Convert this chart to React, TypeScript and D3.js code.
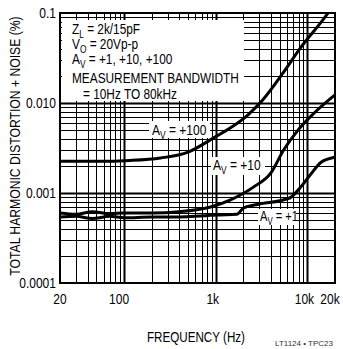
import React from "react";
import * as d3 from "d3";

const W = 343;
const H = 349;

const xTicks = [20, 100, 1000, 10000, 20000];
const xTickLabels = ["20", "100", "1k", "10k", "20k"];
const yTicks = [0.1, 0.01, 0.001, 0.0001];
const yTickLabels = ["0.1", "0.010", "0.001", "0.0001"];

const av100Freq = [20, 50, 117, 250, 500, 950, 1450, 2250, 3250, 5500, 8100, 16800, 20000];
const av100Val = [0.00225, 0.00225, 0.0023, 0.00245, 0.00285, 0.0041, 0.0053, 0.0074, 0.0108, 0.022, 0.039, 0.1, 0.13];

const av10Freq = [20, 30, 45, 70, 100, 200, 400, 880, 1450, 2600, 4000, 5500, 7900, 11800, 20000];
const av10Val = [0.0006, 0.00058, 0.00062, 0.00059, 0.0006, 0.0006, 0.00062, 0.0007, 0.00084, 0.00117, 0.00167, 0.003, 0.005, 0.0077, 0.0123];

const av1Freq = [20, 30, 45, 70, 100, 200, 340, 780, 1000, 1700, 2000, 2750, 6400, 8300, 10700, 14100, 20000];
const av1Val = [0.00054, 0.00055, 0.00052, 0.00055, 0.00053, 0.00054, 0.00054, 0.00056, 0.00057, 0.00058, 0.00068, 0.00074, 0.00088, 0.00114, 0.00158, 0.0022, 0.0025];

const condLines = ["Z|L| = 2k/15pF", "V|O| = 20Vp-p", "A|V| = +1, +10, +100", "MEASUREMENT BANDWIDTH", "  = 10Hz TO 80kHz"];

const FONT = "'Liberation Sans', Arial, Helvetica, sans-serif";

const left = 60, right = 335, top = 13, bottom = 283;
const x = d3.scaleLog().domain([20, 20000]).range([left, right]);
const y = d3.scaleLog().domain([0.0001, 0.1]).range([bottom, top]);

function T({ x, y, size, sx = 0.8, anchor = "start", children, fill = "#000" }: any) {
  return (
    <text
      transform={`translate(${x},${y}) scale(${sx},1)`}
      fontSize={size}
      textAnchor={anchor}
      fontFamily={FONT}
      fill={fill}
    >
      {children}
    </text>
  );
}

function Sub({ main, sub, rest, size }: any) {
  return (
    <>
      {main}
      <tspan fontSize={size * 0.7} dy={size * 0.25}>{sub}</tspan>
      <tspan dy={-size * 0.25}>{rest}</tspan>
    </>
  );
}

function renderLine(s: string, size: number) {
  const parts = s.split("|");
  if (parts.length === 3) return <Sub main={parts[0]} sub={parts[1]} rest={parts[2]} size={size} />;
  return s.replace(/^ +/, "");
}

export default function App() {
  const line = d3
    .line<[number, number]>()
    .x((d) => x(d[0]))
    .y((d) => y(d[1]))
    .curve(d3.curveMonotoneX);

  const minorX: number[] = [];
  for (let dec = 10; dec <= 10000; dec *= 10) {
    for (let m = 1; m <= 9; m++) {
      const f = dec * m;
      if (f > 20 && f < 20000) minorX.push(f);
    }
  }
  const minorY: number[] = [];
  for (let dec = 0.0001; dec < 0.1; dec *= 10) {
    for (let m = 1; m <= 9; m++) {
      const v = dec * m;
      if (v > 0.0001 * 1.01 && v < 0.1 * 0.99) minorY.push(v);
    }
  }
  const isMajor = (v: number) => Math.abs(Math.log10(v) - Math.round(Math.log10(v))) < 1e-6;
  const px = (v: number) => Math.round(v) + 0.5;

  const series = [
    { f: av100Freq, v: av100Val },
    { f: av10Freq, v: av10Val },
    { f: av1Freq, v: av1Val },
  ];

  const tickDx = [0, -5, -3, -3, -5];
  const lineBase = [34, 49, 64, 83, 99];

  return (
    <svg width={W} height={H} style={{ position: "absolute", left: 0, top: 0, background: "#fff" }}>
      <defs>
        <clipPath id="plot">
          <rect x={left} y={top} width={right - left} height={bottom - top} />
        </clipPath>
      </defs>
      <rect x={0} y={0} width={W} height={H} fill="#fff" />
      {/* grid */}
      <g stroke="#000">
        {minorX.map((f, i) => (
          <line key={"gx" + i} x1={px(x(f))} x2={px(x(f))} y1={top} y2={bottom} strokeWidth={isMajor(f) ? 2 : 1} />
        ))}
        {minorY.map((v, i) => (
          <line key={"gy" + i} x1={left} x2={right} y1={px(y(v))} y2={px(y(v))} strokeWidth={isMajor(v) ? 2 : 1} />
        ))}
      </g>
      {/* condition text box */}
      <rect x={62} y={20} width={182} height={81} fill="#fff" />
      {/* curves */}
      <g clipPath="url(#plot)" fill="none" stroke="#000" strokeWidth={3} strokeLinejoin="round">
        {series.map((s, i) => (
          <path key={i} d={line(s.f.map((f, j) => [f, s.v[j]] as [number, number])) || ""} />
        ))}
      </g>
      {/* curve labels */}
      <rect x={149} y={121} width={61} height={17} fill="#fff" />
      <T x={152} y={135} size={15} sx={0.8}>
        <Sub main="A" sub="V" rest=" = +100" size={15} />
      </T>
      <rect x={211} y={157} width={54} height={18} fill="#fff" />
      <T x={213} y={170} size={15} sx={0.8}>
        <Sub main="A" sub="V" rest=" = +10" size={15} />
      </T>
      <rect x={258} y={209} width={38} height={16} fill="#fff" />
      <T x={260} y={221} size={15} sx={0.74}>
        <Sub main="A" sub="V" rest=" = +1" size={15} />
      </T>
      {/* conditions */}
      {condLines.map((s, i) => (
        <T key={i} x={s.startsWith(" ") ? 83 : 72} y={lineBase[i]} size={15} sx={0.79}>
          {renderLine(s, 15)}
        </T>
      ))}
      {/* frame */}
      <rect x={left} y={top} width={right - left} height={bottom - top} fill="none" stroke="#000" strokeWidth={2} />
      {/* y ticks */}
      {yTicks.map((v, i) => (
        <T key={i} x={56} y={y(v) + 5} size={14} sx={0.86} anchor="end">
          {yTickLabels[i]}
        </T>
      ))}
      {/* x ticks */}
      {xTicks.map((f, i) => (
        <T key={i} x={x(f) + tickDx[i]} y={304} size={15} sx={0.8} anchor="middle">
          {xTickLabels[i]}
        </T>
      ))}
      <text
        x={196}
        y={342}
        fontSize={15}
        fontFamily={FONT}
        textAnchor="middle"
        textLength={98}
        lengthAdjust="spacingAndGlyphs"
      >
        FREQUENCY (Hz)
      </text>
      <text
        transform={`translate(20,146) rotate(-90) scale(0.87,1)`}
        fontSize={14}
        fontFamily={FONT}
        textAnchor="middle"
      >
        TOTAL HARMONIC DISTORTION + NOISE (%)
      </text>
      <text x={333} y={346} fontSize={8} fontFamily={FONT} textAnchor="end" fill="#333">
        LT1124 • TPC23
      </text>
    </svg>
  );
}
